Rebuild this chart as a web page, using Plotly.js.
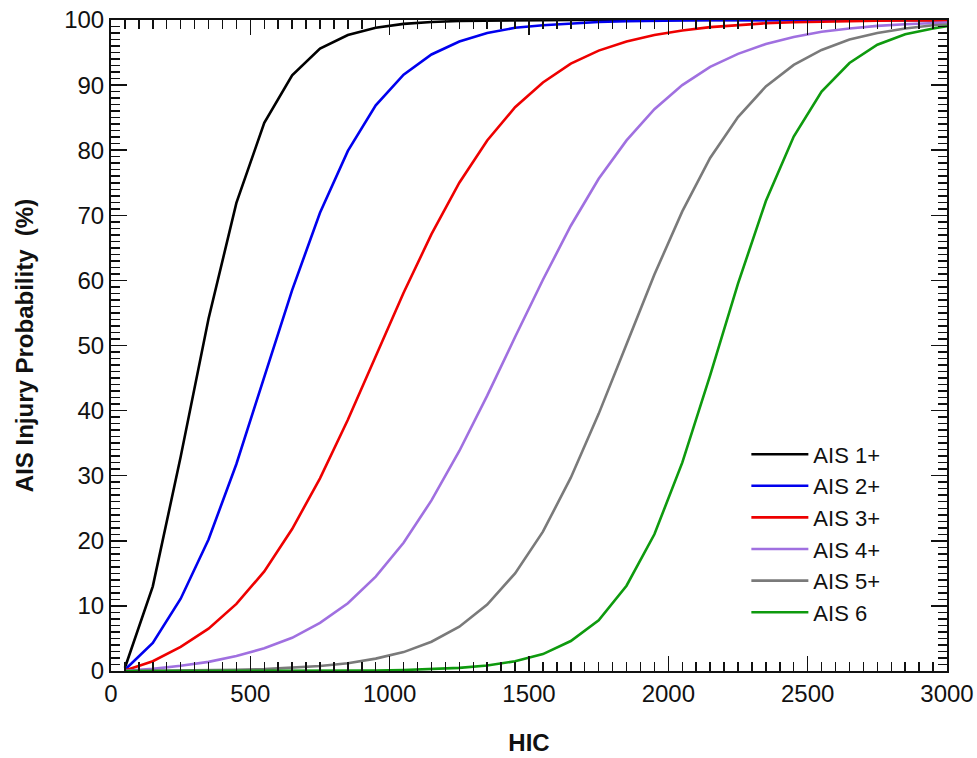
<!DOCTYPE html>
<html>
<head>
<meta charset="utf-8">
<script src="https://cdn.plot.ly/plotly-3.0.1.min.js"></script>
<style>html,body{margin:0;padding:0;background:#fff;}#chart{width:977px;height:758px;}</style>
</head>
<body>
<div id="chart"></div>
<script>
// HIC values at which the curves are sampled
const hic = [50,150,250,350,450,550,650,750,850,950,1050,1150,1250,1350,1450,1550,1650,1750,1850,1950,2050,2150,2250,2350,2450,2550,2650,2750,2850,2950,3000];

// Injury probability (%)
const ais1 = [0.5,13.0,32.9,54.1,71.9,84.2,91.5,95.6,97.7,98.8,99.4,99.7,99.84,99.92,99.96,99.98,99.99,100,100,100,100,100,100,100,100,100,100,100,100,100,100];
const ais2 = [0.2,4.3,11.1,20.2,31.8,45.1,58.5,70.4,79.9,86.9,91.6,94.7,96.7,98.0,98.8,99.2,99.5,99.7,99.8,99.9,99.93,99.96,99.97,99.98,99.99,99.99,100,100,100,100,100];
const ais3 = [0.07,1.5,3.7,6.5,10.3,15.3,21.8,29.6,38.6,48.3,58.1,67.1,75.0,81.5,86.6,90.4,93.3,95.3,96.7,97.7,98.4,98.9,99.25,99.5,99.65,99.76,99.83,99.89,99.92,99.95,99.95];
const ais4 = [0.02,0.33,0.8,1.4,2.3,3.5,5.1,7.4,10.4,14.5,19.7,26.2,33.8,42.3,51.3,60.1,68.4,75.6,81.5,86.3,90.0,92.8,94.8,96.3,97.4,98.2,98.7,99.1,99.35,99.54,99.62];
const ais5 = [0,0.02,0.05,0.1,0.18,0.29,0.48,0.76,1.2,1.9,2.9,4.5,6.8,10.2,15.0,21.4,29.7,39.5,50.2,60.9,70.6,78.8,85.1,89.8,93.1,95.4,97.0,98.0,98.7,99.2,99.3];
const ais6 = [0,0,0,0,0,0.01,0.01,0.03,0.05,0.08,0.15,0.27,0.48,0.85,1.5,2.6,4.6,7.8,13.1,21.0,32.0,45.4,59.5,72.2,82.1,89.0,93.4,96.2,97.8,98.7,99.05];

const names = ["AIS 1+","AIS 2+","AIS 3+","AIS 4+","AIS 5+","AIS 6"];
const series = [ais1, ais2, ais3, ais4, ais5, ais6];
const colors = ["#000000","#0000ee","#ee0000","#a070e0","#7a7a7a","#0e9a0e"];

const traces = series.map((ys, i) => ({
  x: hic, y: ys, name: names[i], type: "scatter", mode: "lines",
  line: {color: colors[i], width: 2.6}
}));

const font = "Arial, 'Liberation Sans', sans-serif";
const layout = {
  width: 977, height: 758,
  margin: {l: 111, r: 30, t: 20, b: 87},
  paper_bgcolor: "#fff", plot_bgcolor: "#fff",
  font: {family: font, size: 22, color: "#111"},
  showlegend: true,
  legend: {x: 0.76, y: 0.365, xanchor: "left", yanchor: "top",
           bgcolor: "rgba(255,255,255,0)", font: {family: font, size: 22, color: "#111"},
           tracegroupgap: 0, itemwidth: 57},
  xaxis: {
    range: [0, 3000], dtick: 500, tick0: 0,
    showgrid: false, zeroline: false,
    showline: true, linecolor: "#111", linewidth: 2, mirror: "allticks",
    ticks: "inside", ticklen: 15, tickwidth: 1.5, tickcolor: "#111",
    minor: {dtick: 50, ticks: "inside", ticklen: 9, tickwidth: 1.5, tickcolor: "#111", showgrid: false},
    tickfont: {family: font, size: 24, color: "#111"},
    title: {text: "<b>HIC</b>", font: {family: font, size: 24, color: "#111"}, standoff: 28}
  },
  yaxis: {
    range: [0, 100], dtick: 10, tick0: 0,
    showgrid: false, zeroline: false,
    showline: true, linecolor: "#111", linewidth: 2, mirror: "allticks",
    ticks: "inside", ticklen: 16, tickwidth: 1.5, tickcolor: "#111",
    minor: {dtick: 1, ticks: "inside", ticklen: 9, tickwidth: 1.5, tickcolor: "#111", showgrid: false},
    tickfont: {family: font, size: 24, color: "#111"},
    title: {text: "<b>AIS Injury Probability  (%)</b>", font: {family: font, size: 24, color: "#111"}, standoff: 24}
  }
};

Plotly.newPlot("chart", traces, layout, {displayModeBar: false, staticPlot: true});
</script>
</body>
</html>
